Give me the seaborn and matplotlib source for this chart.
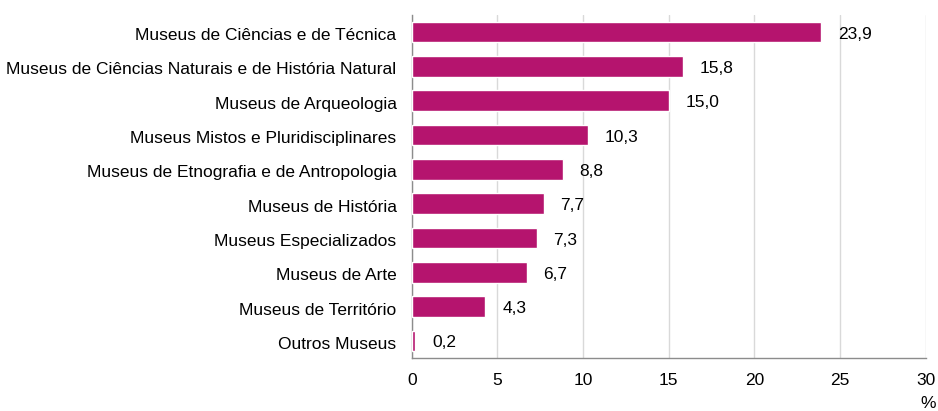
import matplotlib
matplotlib.use("Agg")
import matplotlib.pyplot as plt
import matplotlib.transforms as mtransforms
import seaborn as sns
import pandas as pd
import numpy as np

categories = [
    "Museus de Ciências e de Técnica",
    "Museus de Ciências Naturais e de História Natural",
    "Museus de Arqueologia",
    "Museus Mistos e Pluridisciplinares",
    "Museus de Etnografia e de Antropologia",
    "Museus de História",
    "Museus Especializados",
    "Museus de Arte",
    "Museus de Território",
    "Outros Museus",
]
values = [23.9, 15.8, 15.0, 10.3, 8.8, 7.7, 7.3, 6.7, 4.3, 0.2]
value_labels = ["23,9", "15,8", "15,0", "10,3", "8,8", "7,7", "7,3", "6,7", "4,3", "0,2"]
x_ticks = [0, 5, 10, 15, 20, 25, 30]

sns.set_theme(style="white")
plt.rcParams['font.family'] = ['Liberation Sans', 'DejaVu Sans']

df = pd.DataFrame({"cat": categories, "val": values})

fig = plt.figure(figsize=(9.38, 4.11), dpi=100)
ax = fig.add_axes([0.439, 0.129, 0.548, 0.8345])

sns.barplot(data=df, x="val", y="cat", orient="h", color="#B5146E",
            saturation=1, width=0.6, ax=ax, zorder=3)

ax.set_xlim(0, 30)
ax.set_ylim(len(categories) - 0.5, -0.5)
ax.set_xticks(x_ticks)
ax.set_xticklabels([str(t) for t in x_ticks], fontsize=12.5, color="#000000")
ax.set_xlabel("")
ax.set_ylabel("")

ax.xaxis.grid(True, color="#d9d9d9", linewidth=1, zorder=0)
ax.yaxis.grid(False)
ax.set_axisbelow(True)

for s in ["top", "right"]:
    ax.spines[s].set_visible(False)
for s in ["left", "bottom"]:
    ax.spines[s].set_color("#8c8c8c")
    ax.spines[s].set_linewidth(1)

ax.set_yticks(range(len(categories)))
ax.set_yticklabels(categories, fontsize=12.5, color="#000000")
ax.tick_params(axis="y", which="major", length=0, pad=11)
shift = mtransforms.ScaledTranslation(0, -2 / 100, fig.dpi_scale_trans)
for t in ax.get_yticklabels():
    t.set_transform(t.get_transform() + shift)
ax.set_yticks(np.arange(-0.5, len(categories), 1), minor=True)
ax.tick_params(axis="y", which="minor", length=4, color="#8c8c8c", direction="out", width=1)
ax.tick_params(axis="x", which="major", length=4, color="#8c8c8c", direction="out", width=1, pad=7)

for i, (v, lab) in enumerate(zip(values, value_labels)):
    ax.annotate(lab, xy=(v, i), xytext=(12, -1.5), textcoords="offset points",
                ha="left", va="center", fontsize=12.5, color="#000000")

fig.text(0.989, 0.0, "%", ha="center", va="bottom", fontsize=12.5, color="#000000")

fig.savefig("out.png", dpi=100)
